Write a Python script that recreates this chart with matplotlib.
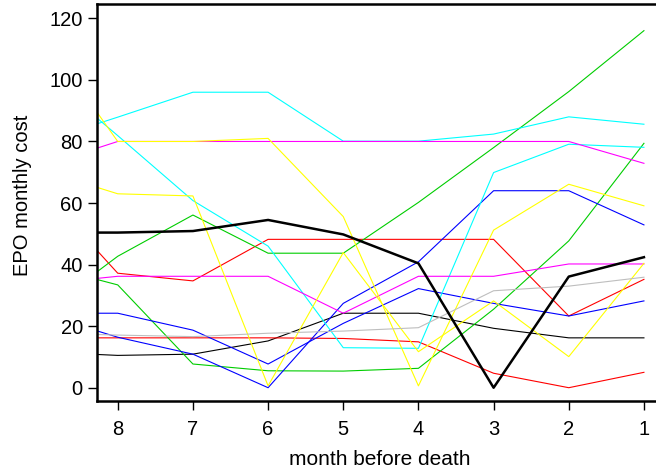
import numpy as np
import matplotlib
matplotlib.use("Agg")
import matplotlib.pyplot as plt

plt.rcParams['font.family'] = ['Liberation Sans', 'DejaVu Sans']

# month 9 lies just outside the left edge (clipped), as in the original
months = [9, 8, 7, 6, 5, 4, 3, 2, 1]

black_thick = [50.4, 50.4, 50.9, 54.5, 49.8, 40.4, 0.0, 36.1, 42.4]
black_thin = [11.6, 10.5, 10.9, 15.2, 24.2, 24.2, 19.3, 16.2, 16.2]
red_a = [64.0, 37.2, 34.7, 48.2, 48.2, 48.2, 48.2, 23.3, 35.2]
red_b = [16.2, 16.2, 16.2, 16.2, 16.0, 14.9, 4.7, 0.0, 5.0]
green_a = [24.4, 42.7, 56.1, 43.7, 43.7, 60.2, 78.0, 96.2, 116.0]
green_b = [39.8, 33.4, 7.7, 5.5, 5.4, 6.3, 25.5, 47.7, 79.4]
blue_a = [24.2, 24.2, 18.7, 7.7, 20.9, 32.2, 27.4, 23.3, 28.2]
blue_b = [23.9, 16.4, 10.9, 0.0, 27.4, 40.9, 64.0, 64.0, 52.9]
cyan_a = [80.0, 87.9, 96.0, 96.0, 80.1, 80.1, 82.4, 88.0, 85.6]
cyan_b = [102.6, 81.9, 60.8, 46.0, 13.0, 12.8, 69.9, 79.1, 78.1]
magenta_a = [72.1, 80.0, 80.0, 80.0, 80.0, 80.0, 80.0, 80.0, 72.9]
magenta_b = [33.7, 36.2, 36.2, 36.2, 24.2, 36.2, 36.2, 40.2, 40.2]
yellow_a = [70.6, 63.0, 62.3, 0.6, 43.9, 11.7, 28.2, 10.1, 40.4]
yellow_b = [114.4, 80.0, 80.0, 81.0, 55.6, 0.6, 51.2, 66.1, 59.1]
gray_a = [17.8, 17.1, 16.6, 17.7, 18.4, 19.5, 31.5, 33.0, 35.9]

series = [
    (black_thin, 'black'),
    (red_a, '#FF0000'), (red_b, '#FF0000'),
    (green_a, '#00CD00'), (green_b, '#00CD00'),
    (blue_a, '#0000FF'), (blue_b, '#0000FF'),
    (cyan_a, '#00FFFF'), (cyan_b, '#00FFFF'),
    (magenta_a, '#FF00FF'), (magenta_b, '#FF00FF'),
    (yellow_a, '#FFFF00'), (yellow_b, '#FFFF00'),
    (gray_a, '#BEBEBE'),
]

fig = plt.figure(figsize=(6.56, 4.71), dpi=100)
ax = fig.add_axes([0.1474, 0.1486, 0.8663, 0.8429])

for vals, col in series:
    ax.plot(months, vals, color=col, lw=0.8)
ax.plot(months, black_thick, color='black', lw=1.8)

ax.set_xlim(8.28, 0.72)
ax.set_ylim(-4.32, 124.66)
ax.set_xticks([8, 7, 6, 5, 4, 3, 2, 1])
ax.set_yticks([0, 20, 40, 60, 80, 100, 120])

for s in ax.spines.values():
    s.set_linewidth(1.8)
ax.tick_params(direction='out', length=6.5, width=1.0, labelsize=14.5)
ax.tick_params(axis='x', pad=7)
ax.tick_params(axis='y', pad=3.5)

ax.set_xlabel('month before death', fontsize=15)
ax.set_ylabel('EPO monthly cost', fontsize=14.5)
ax.xaxis.set_label_coords(0.498, -0.1226)
ax.yaxis.set_label_coords(-0.113, 0.519)

fig.savefig('out.png', dpi=100)
